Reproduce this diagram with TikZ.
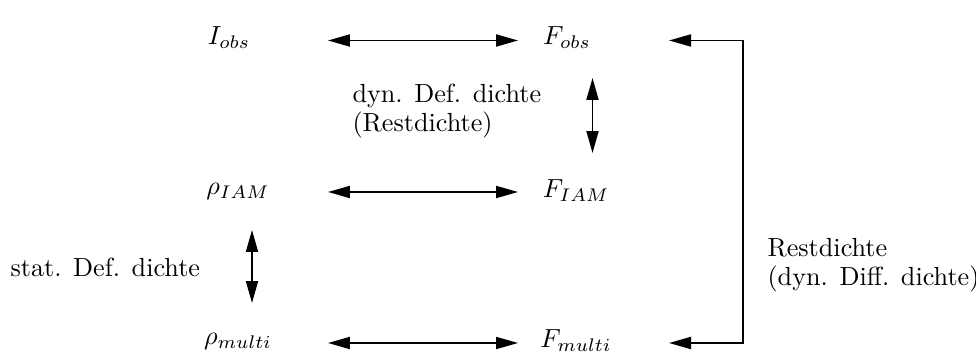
\documentclass[tikz,border=0pt]{standalone}
\usetikzlibrary{arrows.meta}
\begin{document}
\begin{tikzpicture}[x=0.382pt,y=-0.382pt,
  lbl/.style={inner sep=0pt},
  txt/.style={inner sep=0pt,align=left,anchor=west},
  dbl/.style={{Triangle[length=8.4pt,width=4.6pt]}-{Triangle[length=8.4pt,width=4.6pt]},line width=0.65pt},
  single/.style={-{Triangle[length=8.4pt,width=4.6pt]},line width=0.65pt}]
\useasboundingbox (0,0) rectangle (976,352);
% nodes
\node[lbl] (Iobs) at (229,38) {$I_{obs}$};
\node[lbl] (Fobs) at (567,38) {$F_{obs}$};
\node[lbl] (rIAM) at (238,191) {$\rho_{IAM}$};
\node[lbl] (FIAM) at (576,191) {$F_{IAM}$};
\node[lbl] (rmulti) at (238,341) {$\rho_{multi}$};
\node[lbl] (Fmulti) at (576,341) {$F_{multi}$};
\node[txt] (dyn) at (352,111) {dyn. Def. dichte\\[-1pt](Restdichte)};
\node[txt] (stat) at (10,267) {stat. Def. dichte};
\node[txt] (rest) at (767,265) {Restdichte\\[-1pt](dyn. Diff. dichte)};
% arrow end points
\coordinate (h1a) at (328,40.5); \coordinate (h1b) at (518,40.5);
\coordinate (h2a) at (328,192); \coordinate (h2b) at (518,192);
\coordinate (h3a) at (328,343); \coordinate (h3b) at (518,343);
\coordinate (v1a) at (592.5,78); \coordinate (v1b) at (592.5,153);
\coordinate (v2a) at (252,230); \coordinate (v2b) at (252,303);
\coordinate (rt) at (669,40.5); \coordinate (rb) at (669,343);
\coordinate (ct) at (743,40.5); \coordinate (cb) at (743,343);
% connectors
\draw[dbl] (h1a) -- (h1b);
\draw[dbl] (h2a) -- (h2b);
\draw[dbl] (h3a) -- (h3b);
\draw[dbl] (v1a) -- (v1b);
\draw[dbl] (v2a) -- (v2b);
\draw[single] (ct) -- (rt);
\draw[single] (ct) -- (cb) -- (rb);
\end{tikzpicture}
\end{document}
